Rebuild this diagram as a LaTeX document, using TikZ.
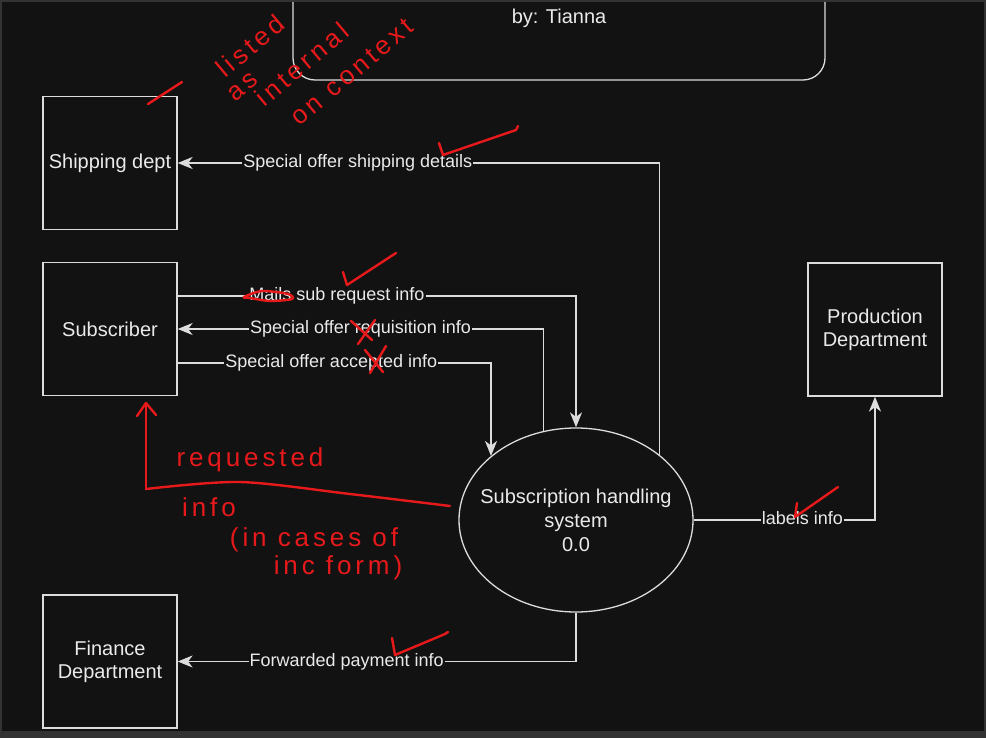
\documentclass[tikz,border=0pt]{standalone}
\usepackage{fontspec}
\setmainfont{Liberation Sans}
\newfontfamily\handfont[LetterSpace=15]{Liberation Sans}
\usetikzlibrary{arrows.meta,shapes.geometric}
\definecolor{bgdark}{HTML}{121212}
\definecolor{bgframe}{HTML}{333333}
\definecolor{ln}{HTML}{DCDCDC}
\definecolor{txt}{HTML}{EAEAEA}
\definecolor{penred}{HTML}{E8191B}
\begin{document}
\begin{tikzpicture}[x=1pt,y=-1pt,
  ent/.style={draw=ln, line width=1.3pt, minimum width=134pt, minimum height=133pt, inner sep=0pt,
    font=\fontsize{20}{23}\selectfont, text=txt, align=center},
  procnode/.style={ellipse, draw=ln, line width=1.3pt, minimum width=234pt, minimum height=184pt,
    inner sep=0pt},
  proctext/.style={font=\fontsize{20}{24}\selectfont, text=txt, align=center, inner sep=0pt},
  flow/.style={draw=ln, line width=1.3pt, -{Stealth[length=15pt,width=12pt,inset=4.5pt]}},
  flowlbl/.style={fill=bgdark, text=txt, font=\fontsize{18}{20}\selectfont, inner sep=1pt,
    text height=12pt, text depth=3pt},
  penline/.style={draw=penred, line width=2.4pt, line cap=round, line join=round},
  hand/.style={text=penred, font=\handfont\fontsize{26}{28}\selectfont, inner sep=0pt}
]
\useasboundingbox (0,0) rectangle (986,738);
\fill[bgframe] (0,0) rectangle (986,738);
\fill[bgdark] (1.5,2) rectangle (984,731);

% title box (cut off at top)
\draw[draw=ln, line width=1.3pt, rounded corners=22pt] (293,2) -- (293,80) -- (825,80) -- (825,2);
\node[font=\fontsize{20}{23}\selectfont, text=txt] (title) at (559,18) {by: Tianna};

% entities
\node[ent] (ship) at (110,163) {Shipping dept};
\node[ent] (sub) at (110,329) {Subscriber};
\node[ent] (fin) at (110,661.5) {Finance\\Department};
\node[ent] (prod) at (875,329.5) {Production\\Department};
\node[procnode] (proc) at (576,520) {};
\node[proctext] (proclbl) at (proc.center) {Subscription handling\\system\\0.0};

% flows
\draw[flow] (proc.38.7) |- (ship.east) node[flowlbl, pos=0.813] {Special offer shipping details};
\draw[flow] ([yshift=33pt]sub.east) -| (proc.north) node[flowlbl, pos=0.2] {Mails sub request info};
\draw[flow] (proc.110.5) |- (sub.east) node[flowlbl, pos=0.75] {Special offer requisition info};
\draw[flow] ([yshift=-34pt]sub.east) -| (proc.143.4) node[flowlbl, pos=0.245] {Special offer accepted info};
\draw[flow] (proc.east) -| (prod.south) node[flowlbl, pos=0.3] {labels info};
\draw[flow] (proc.south) |- (fin.east) node[flowlbl, pos=0.788] {Forwarded payment info};

% red annotations
\draw[penline] (148,104) -- (182,82);
\node[hand, rotate=40] (a1) at (250,46) {listed};
\node[hand, rotate=40] (a2) at (243,87) {as};
\node[hand, rotate=40] (a3) at (302,64) {internal};
\node[hand, rotate=40] (a4) at (352,72) {on context};

\draw[penline] (439,143) -- (443,155) -- (516,130) -- (518,126);
\draw[penline] (343,272) -- (347,285) -- (396,253);
\draw[penline] plot[smooth cycle] coordinates {(244,297) (262,291) (288,294) (292,299) (270,301) (250,298)};
\draw[penline] (351,321) -- (372,340);
\draw[penline] (375,320) -- (358,344);
\draw[penline] (365,350) -- (383,372);
\draw[penline] (386,346) -- (370,373);
\draw[penline] (797,503) -- (795,517) -- (838,487);
\draw[penline] (392,638) -- (395,655) -- (445,634) -- (448,632);

\draw[penline] (137,416) -- (146,403) -- (156,415);
\draw[penline] (146,403) -- (146,489);
\draw[penline] plot[smooth] coordinates {(146,489) (240,482) (350,494) (450,506)};
\node[hand] (b1) at (250,460) {requested};
\node[hand] (b2) at (209,507) {info};
\node[hand] (b3) at (314,540) {(in cases of};
\node[hand] (b4) at (338,568) {inc form)};
\end{tikzpicture}
\end{document}
